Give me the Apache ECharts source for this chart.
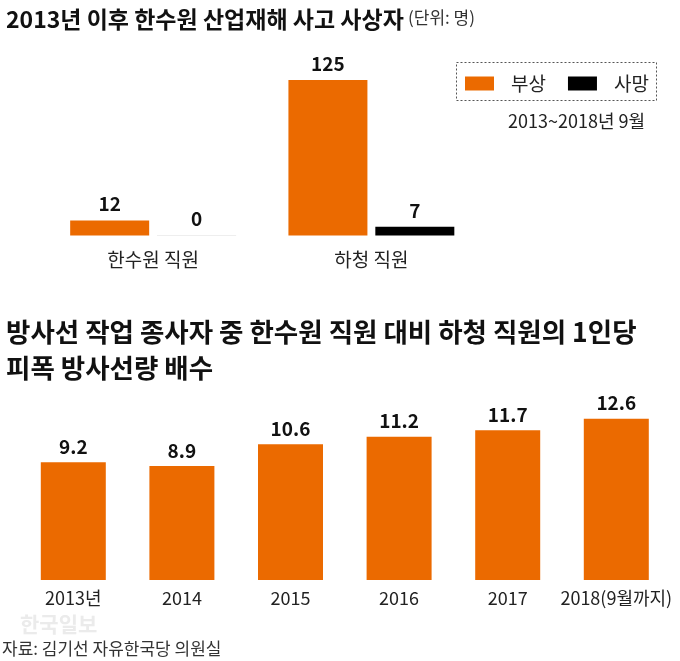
<!DOCTYPE html>
<html><head><meta charset="utf-8">
<script src="https://cdn.jsdelivr.net/npm/echarts@6/dist/echarts.min.js"></script>
<style>html,body{margin:0;padding:0;background:#fff}#c{width:680px;height:661px}</style>
</head><body><div id="c"></div>
<script>
// ---- data ----
const topCategories = ['한수원 직원', '하청 직원'];
const injured = [12, 125];   // 부상
const deaths = [0, 7];       // 사망
const bottomCategories = ['2013년', '2014', '2015', '2016', '2017', '2018(9월까지)'];
const ratio = [9.2, 8.9, 10.6, 11.2, 11.7, 12.6];

const ORANGE = '#EB6A00';
const FONT = '"Noto Sans CJK KR", "Noto Sans", sans-serif';

const chart = echarts.init(document.getElementById('c'), null, {renderer: 'canvas'});
const valLabel = {show: true, position: 'top', distance: 7, fontFamily: FONT, fontWeight: 'bold', fontSize: 19, color: '#111'};

chart.setOption({
  backgroundColor: '#fff',
  animation: false,
  textStyle: {fontFamily: FONT},
  title: [
    {text: '2013년 이후 한수원 산업재해 사고 사상자', left: 1, top: 3,
     textStyle: {fontFamily: FONT, fontSize: 23, fontWeight: 'bold', color: '#111'}},
    {text: '방사선 작업 종사자 중 한수원 직원 대비 하청 직원의 1인당\n피폭 방사선량 배수', left: 1, top: 309,
     textStyle: {fontFamily: FONT, fontSize: 26.5, fontWeight: 'bold', color: '#111', lineHeight: 36}},
  ],
  legend: {
    left: 460, top: 69, itemWidth: 29, itemHeight: 14, itemGap: 22,
    icon: 'rect',
    textStyle: {fontFamily: FONT, fontSize: 19, color: '#222', padding: [0, 0, 0, 12]},
    data: ['부상', '사망']
  },
  graphic: [
    {type: 'rect', shape: {x: 456.5, y: 62.5, width: 200, height: 38},
     style: {fill: 'none', stroke: '#555', lineWidth: 1, lineDash: [2, 2]}},
    {type: 'text', left: 408, top: 9, style: {text: '(단위: 명)', fontFamily: FONT, fontSize: 17, fill: '#333'}},
    {type: 'text', left: 508, top: 112, style: {text: '2013~2018년 9월', fontFamily: FONT, fontSize: 18, fill: '#222'}},
    {type: 'text', left: 20, top: 614, style: {text: '한국일보', fontFamily: FONT, fontSize: 21, fontWeight: 'bold', fill: '#ebebeb'}},
    {type: 'text', left: 2, top: 640, style: {text: '자료: 김기선 자유한국당 의원실', fontFamily: FONT, fontSize: 17, fill: '#333'}}
  ],
  grid: [
    {left: 44, right: 199.5, top: 80, bottom: 425.5},
    {left: 19, right: 9.4, top: 413.6, bottom: 81}
  ],
  xAxis: [
    {type: 'category', gridIndex: 0, data: topCategories,
     axisLine: {show: false}, axisTick: {show: false},
     axisLabel: {interval: 0, margin: 15, fontFamily: FONT, fontSize: 19, color: '#222'}},
    {type: 'category', gridIndex: 1, data: bottomCategories,
     axisLine: {show: false}, axisTick: {show: false},
     axisLabel: {interval: 0, margin: 9, fontFamily: FONT, fontSize: 18, color: '#222'}}
  ],
  yAxis: [
    {type: 'value', gridIndex: 0, min: 0, max: 125, show: false, splitLine: {show: false}},
    {type: 'value', gridIndex: 1, min: 0, max: 13, show: false, splitLine: {show: false}}
  ],
  series: [
    {name: '부상', type: 'bar', xAxisIndex: 0, yAxisIndex: 0, data: injured,
     barWidth: 79, barGap: '10%', itemStyle: {color: ORANGE}, label: valLabel},
    {name: '사망', type: 'bar', xAxisIndex: 0, yAxisIndex: 0,
     data: deaths.map(v => v === 0 ? {value: v, itemStyle: {borderColor: '#eee', borderWidth: 1}} : v),
     barWidth: 79, itemStyle: {color: '#000'}, label: valLabel},
    {name: '배수', type: 'bar', xAxisIndex: 1, yAxisIndex: 1, data: ratio,
     barWidth: 65, itemStyle: {color: ORANGE}, label: Object.assign({}, valLabel, {distance: 6})}
  ]
});
</script></body></html>
